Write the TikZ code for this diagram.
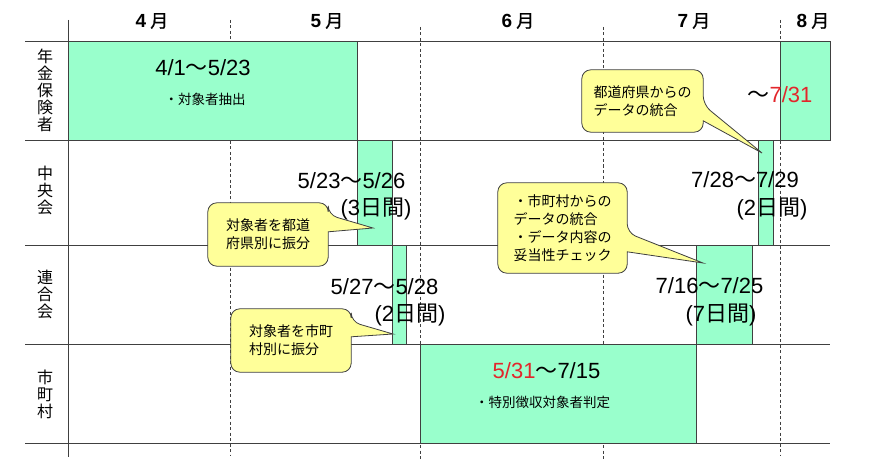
\documentclass[tikz,border=0pt]{standalone}
\usepackage{fontspec}
\setmainfont{Noto Sans CJK JP}
\newfontfamily\lat{Liberation Sans}
\newfontfamily\mfont{Noto Sans CJK JP}[FakeBold=1.2]
\definecolor{gfill}{HTML}{99FFCC}
\definecolor{yfill}{HTML}{FFFF99}
\definecolor{lcol}{HTML}{404040}
\definecolor{rtxt}{HTML}{E3262B}
\pgfdeclarelayer{cshapelayer}
\pgfdeclarelayer{ctextlayer}
\pgfsetlayers{main,cshapelayer,ctextlayer}
\newcommand\lt[1]{{\lat #1}}
\newcommand\mlab[1]{{\fontsize{19}{21}\selectfont\lat\bfseries #1\hspace{4pt}}{\fontsize{18}{21}\selectfont\mfont 月}}
\begin{document}
\begin{tikzpicture}[x=1pt,y=-1pt,
  gbox/.style={fill=gfill, draw=lcol, line width=0.8pt},
  gridline/.style={draw=lcol, line width=0.8pt},
  mdash/.style={draw=lcol, line width=0.7pt, dash pattern=on 3pt off 2.5pt},
  datetxt/.style={font=\fontsize{22}{26}\selectfont, inner sep=0pt},
  monthtxt/.style={inner sep=0pt},
  rowlab/.style={align=center, font=\fontsize{16}{17}\selectfont, inner sep=0pt},
  notetxt/.style={font=\fontsize{13.5}{16}\selectfont, inner sep=0pt},
  cbub/.style={align=left, font=\fontsize{14}{18}\selectfont, inner sep=0pt},
  cshape/.style={fill=yfill, draw=lcol, line width=0.8pt, rounded corners=9pt}]
\useasboundingbox (0,0) rectangle (870,476);
\fill[white] (0,0) rectangle (870,476);
% grid
\foreach \yy in {41,140,245,344,443} \draw[gridline] (25,\yy) -- (830,\yy);
\draw[gridline] (68,20) -- (68,457);
\draw[mdash] (230,20) -- (230,456);
\draw[mdash] (420.7,27) -- (420.7,461);
\draw[mdash] (603,27) -- (603,461);
\draw[mdash] (780,20) -- (780,456);
% green boxes
\draw[gbox] (68,41) rectangle (357,140);
\draw[gbox] (780,41) rectangle (830,140);
\draw[gbox] (357,140) rectangle (392,245);
\draw[gbox] (758,140) rectangle (773,245);
\draw[gbox] (392,245) rectangle (406,344);
\draw[gbox] (696,245) rectangle (752,344);
\draw[gbox] (420.7,344) rectangle (696,443);
% months
\node[monthtxt] (m4) at (152,21) {\mlab{4}};
\node[monthtxt] (m5) at (327,21) {\mlab{5}};
\node[monthtxt] (m6) at (518,21) {\mlab{6}};
\node[monthtxt] (m7) at (694,21) {\mlab{7}};
\node[monthtxt] (m8) at (813,21) {\mlab{8}};
% row labels
\node[rowlab] (r1) at (45,90) {年\\金\\保\\険\\者};
\node[rowlab] (r2) at (45,190) {中\\央\\会};
\node[rowlab] (r3) at (45,294) {連\\合\\会};
\node[rowlab] (r4) at (45,394) {市\\町\\村};
% dates
\node[datetxt] (d1) at (203,68) {\lt{4/1}～\lt{5/23}};
\node[notetxt] (n1) at (205,99) {・対象者抽出};
\node[datetxt] (d2) at (780,95) {～\textcolor{rtxt}{\lt{7/31}}};
\node[datetxt] (d3) at (351.5,181) {\lt{5/23}～\lt{5/26}};
\node[datetxt] (d3b) at (376,209) {\lt{(3}日間\lt{)}};
\node[datetxt] (d4) at (745,180) {\lt{7/28}～\lt{7/29}};
\node[datetxt] (d4b) at (772,209) {\lt{(2}日間\lt{)}};
\node[datetxt] (d5) at (384.5,287) {\lt{5/27}～\lt{5/28}};
\node[datetxt] (d5b) at (410,315) {\lt{(2}日間\lt{)}};
\node[datetxt] (d6) at (709.5,286) {\lt{7/16}～\lt{7/25}};
\node[datetxt] (d6b) at (721,315) {\lt{(7}日間\lt{)}};
\node[datetxt] (d7) at (546.5,371) {\textcolor{rtxt}{\lt{5/31}}～\lt{7/15}};
\node[notetxt] (n7) at (542.5,402) {・特別徴収対象者判定};
% callout tips
\coordinate (tA) at (373,228);
\coordinate (tB) at (393,334);
\coordinate (tC) at (762,153);
\coordinate (tD) at (703,263);
% callout texts
\begin{pgfonlayer}{ctextlayer}
\node[cbub, minimum width=120pt, minimum height=63pt] (cA) at (268,234.5) {対象者を都道\\府県別に振分};
\node[cbub, minimum width=120pt, minimum height=63pt] (cB) at (291,340.5) {対象者を市町\\村別に振分};
\node[cbub, minimum width=121pt, minimum height=62pt] (cC) at (642.5,101) {都道府県からの\\データの統合};
\node[cbub, minimum width=129pt, minimum height=90pt] (cD) at (562.5,228) {・市町村からの\\データの統合\\・データ内容の\\妥当性チェック};
\end{pgfonlayer}
% callout shapes
\begin{pgfonlayer}{cshapelayer}
\path[cshape] (cA.north) -- (cA.north east) -- ([yshift=-12pt]cA.north east) [sharp corners] -- (tA) -- ([yshift=-29pt]cA.north east) [rounded corners=9pt] -- (cA.south east) -- (cA.south west) -- (cA.north west) -- cycle;
\path[cshape] (cB.north) -- (cB.north east) -- ([yshift=-13pt]cB.north east) [sharp corners] -- (tB) -- ([yshift=-28pt]cB.north east) [rounded corners=9pt] -- (cB.south east) -- (cB.south west) -- (cB.north west) -- cycle;
\path[cshape] (cC.north) -- (cC.north east) -- ([yshift=-35pt]cC.north east) [sharp corners] -- (tC) -- ([yshift=-51pt]cC.north east) [rounded corners=9pt] -- (cC.south east) -- (cC.south west) -- (cC.north west) -- cycle;
\path[cshape] (cD.north) -- (cD.north east) -- ([yshift=-50pt]cD.north east) [sharp corners] -- (tD) -- ([yshift=-69pt]cD.north east) [rounded corners=9pt] -- (cD.south east) -- (cD.south west) -- (cD.north west) -- cycle;
\end{pgfonlayer}
\end{tikzpicture}
\end{document}
